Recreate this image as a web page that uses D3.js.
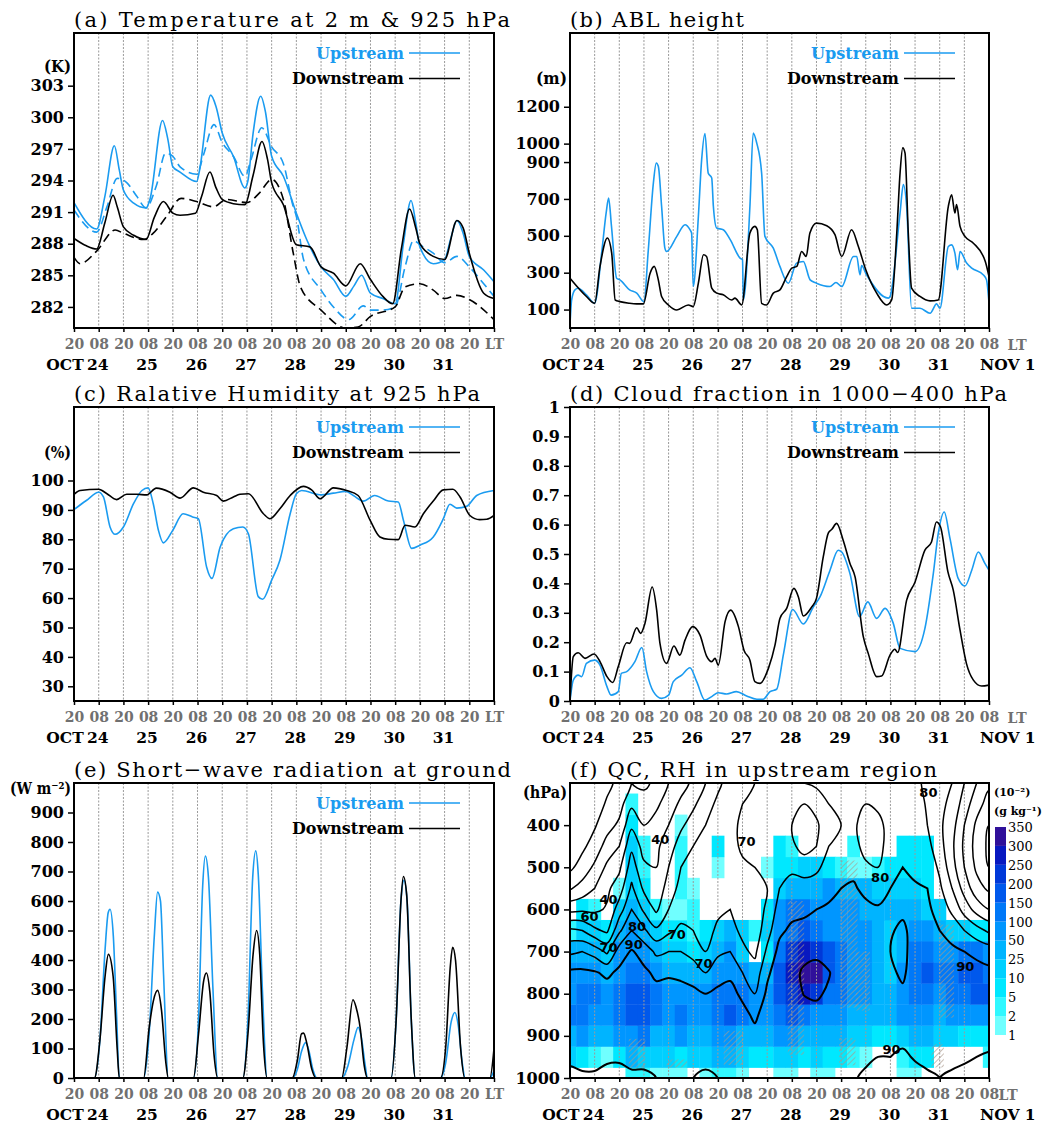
<!DOCTYPE html>
<html lang="en">
<head>
<meta charset="utf-8">
<title>Upstream and downstream time series</title>
<script src="https://d3js.org/d3.v7.min.js"></script>
<style>
  body { margin: 0; background: #fff; }
  .title { font-family: "DejaVu Serif", serif; font-size: 21px; fill: #000; }
  .ytick { font-family: "DejaVu Serif", serif; font-weight: bold; font-size: 16px; fill: #000; }
  .xtick { font-family: "DejaVu Serif", serif; font-weight: bold; font-size: 14px; fill: #707070; }
  .day { font-family: "DejaVu Serif", serif; font-weight: bold; font-size: 15.5px; fill: #000; }
  .unit { font-family: "DejaVu Serif", serif; font-weight: bold; font-size: 16px; fill: #000; }
  .cunit { font-family: "DejaVu Serif", serif; font-weight: bold; font-size: 11px; fill: #000; }
  .legend { font-family: "DejaVu Serif", serif; font-weight: bold; font-size: 16px; }
  .clab { font-family: "DejaVu Sans", sans-serif; font-weight: bold; font-size: 13px; fill: #000; }
  .cbar { font-family: "DejaVu Serif", serif; font-size: 13px; fill: #000; }
</style>
</head>
<body>
<script>
// hours after 20 LT on 23 Oct
const tickHours = [0,12,24,36,48,60,72,84,96,108,120,132,144,156,168,180,192,204];
const tickNames = ["20","08","20","08","20","08","20","08","20","08","20","08","20","08","20","08","20","08"];
const dayHours = [12,36,60,84,108,132,156,180];
const dayNames = ["24","25","26","27","28","29","30","31"];

// (a) temperature, K  [hour, value]
const aUp2m = [[0,291.9],[11,289.4],[15,292.5],[19.6,297.3],[22,295],[24,293.1],[29,291.85],[35,291.4],[37,292.3],[43,299.7],[45.5,298],[48,295.3],[51.5,294.8],[59.6,293.9],[61,295],[66.4,302.1],[69,301],[72,298.5],[77.4,296.3],[83,293.3],[84.5,294],[87,298.5],[90.7,302.0],[93,300.5],[96,296.3],[101.7,294.4],[108,290.9],[113,288.4],[120,285.8],[126,284.6],[132,283.0],[136,284],[139.7,285.0],[144,283.3],[150,282.8],[156,282.3],[160,288],[163.7,292.1],[166,290],[168,287.7],[174.5,286.1],[180,286.5],[183,288.5],[186,290.2],[189,289],[192,286.8],[199,285.5],[204,284.4]];
const aUp925 = [[0,291.2],[11,289.1],[16,291.5],[21,294.2],[25.6,293.8],[30.5,292.5],[35,291.4],[40,293.5],[44.5,296.6],[48,296.3],[51.5,295.3],[59.6,294.6],[63,296.5],[68,299.3],[72,297.6],[77.4,296.3],[83,294.4],[86,296],[91.2,299.0],[96,297.2],[101.7,295.6],[106.5,291.5],[108,290.6],[111.5,286.5],[120,283.6],[126,282.0],[133.5,280.8],[140.5,282.1],[144,281.7],[150,281.7],[156,282.0],[160.8,285.8],[165,288.3],[168,287.9],[174.5,287.1],[180,286.2],[186,286.8],[192,285.8],[199,284.2],[204,283.0]];
const aDown2m = [[0,288.5],[6,287.8],[11,287.5],[15,290],[19,292.6],[21,291.5],[24,289.6],[29,288.8],[35,288.4],[39,290.5],[43.4,292.0],[48,290.9],[51.5,290.7],[59,290.9],[62,292.5],[66,294.8],[69,293.3],[72,292.2],[77.4,291.8],[83,291.7],[87,294.5],[91.3,297.7],[94,296],[96,293.8],[101.7,291.7],[108,287.9],[114.6,287.7],[120,285.8],[126,285.2],[132,284.0],[139,286.1],[144,284.6],[150,283.0],[154.8,282.3],[159,287.5],[163,291.3],[166,289.5],[168,288.0],[174.5,286.8],[180,286.5],[186,290.2],[189,289.5],[192,287.1],[199,283.3],[204,282.8]];
const aDown925 = [[0,286.7],[3,286.1],[11,287.3],[20,289.3],[24,289.0],[33.7,288.4],[38.5,289.0],[45,290.6],[52,292.3],[59.6,292.0],[67.7,291.5],[74,292.2],[84,291.9],[90,292.8],[96,294.1],[101.7,292.2],[106.5,287.1],[110,283.9],[120,281.7],[132,280.0],[138,280.1],[144,281.1],[156,282.0],[160.8,283.9],[168,284.2],[174.5,283.6],[180,282.8],[186,283.1],[192,282.7],[204,280.8]];

// (b) ABL height, m
const bUp = [[0,17],[0.8,152],[2.4,207],[4,216],[8,180],[12,134],[15.4,406],[17.6,624],[18.8,705],[20.2,551],[22.7,270],[24.3,261],[29,207],[32.5,189],[36,143],[38.1,420],[40.6,787],[42,895],[43,877],[44.6,660],[46.2,433],[47,415],[52,497],[56,560],[58.4,533],[59.2,515],[60,225],[62.5,605],[64.1,913],[65.7,1055],[67.3,840],[69,814],[69.8,660],[71.4,542],[74.6,533],[78,479],[82.8,379],[84,370],[84.4,152],[87.6,660],[89.2,1058],[90.9,1004],[93.3,840],[94.9,497],[99,433],[102.2,334],[106.3,243],[110.3,352],[113.6,361],[116.9,261],[120,243],[126.6,225],[129.5,247],[132.3,225],[138,388],[139.6,388],[141.2,288],[142,339],[144,297],[155,162],[155.8,170],[160.7,624],[162.3,778],[163.9,660],[166.3,107],[170.4,107],[175.3,80],[178.5,131],[180.1,107],[184.2,442],[185.8,451],[187.4,406],[188.7,316],[189.9,415],[193.1,352],[195.6,325],[201.3,288],[202.8,261],[204,134]];
const bDown = [[0,270],[8,171],[12,134],[14.6,334],[18.2,488],[20.3,406],[22,152],[24.3,143],[29,134],[32.5,131],[35.7,131],[39,297],[41,334],[43,261],[44.6,171],[47.9,125],[52,98],[57.6,125],[60,116],[62.5,243],[65,397],[66.5,388],[69,216],[71.4,189],[74.6,180],[78.7,152],[80.3,162],[83.6,125],[87.6,515],[90,551],[91.2,533],[93.3,134],[95.7,125],[99,189],[102.2,207],[105.5,279],[108,325],[110.4,334],[112.8,415],[115,388],[116.8,515],[120,569],[125,555],[129,506],[132.3,388],[137.1,533],[140.4,442],[144,316],[149.3,189],[154.2,125],[156.6,152],[159.1,515],[160.7,841],[162,977],[163.1,950],[164.7,515],[166.3,216],[170.4,171],[175.3,147],[179.3,152],[184.2,660],[185.8,723],[187.4,624],[188.2,669],[189.9,551],[192.3,497],[196.4,460],[202.2,361],[204,279]];

// (c) relative humidity at 925 hPa, %
const cUp = [[0,90.1],[6,93.2],[12,96.0],[14.3,94.4],[17.5,84.2],[20,81.7],[24,84.2],[28.9,92.1],[33,96.6],[36,97.5],[38.5,92.1],[41,83.1],[43.4,78.8],[48,83.1],[53,88.7],[57.6,87.6],[60.4,87.0],[64.4,70.6],[67,66.7],[71,77.4],[77.4,83.6],[82,84.2],[84.7,81.9],[89.5,60.5],[91.6,59.6],[96,66.1],[100,72.9],[105,88.7],[108,95.5],[110.6,96.6],[120,95.1],[126,95.7],[132,96.3],[135.7,94.9],[140.5,93.0],[146,94.9],[152.7,93.0],[157.5,92.7],[160,86.5],[164,76.9],[168,78.0],[174.5,80.8],[179.4,87.0],[182.6,91.9],[185.9,90.6],[190.7,91.2],[195.6,94.9],[204,96.6]];
const cDown = [[0,95.3],[3,96.6],[12,97.0],[16,95.5],[20.7,93.5],[25.6,95.3],[30.5,95.3],[35.3,95.1],[40,97.4],[46.6,96.0],[51.5,94.0],[58,97.5],[62.8,96.0],[69.3,94.9],[72.5,93.0],[77.4,94.4],[80.6,95.3],[84.7,95.5],[92,88.7],[95.2,87.0],[100,90.4],[105,94.9],[111.4,98.0],[115.4,96.8],[119.5,93.8],[126,97.5],[132.4,96.6],[138,94.9],[143.8,86.5],[148.6,80.8],[152.7,80.0],[157.5,79.9],[160.8,84.8],[165.6,84.2],[169.7,88.7],[174.5,93.0],[179.4,96.8],[184,97.0],[187.5,94.4],[192.3,88.1],[197,86.7],[200.5,86.8],[204,88.1]];

// (d) cloud fraction 1000-400 hPa
const dUp = [[0,0],[1.6,0.071],[4,0.088],[5.7,0.083],[8,0.128],[12,0.139],[14.6,0.122],[18,0.049],[20,0.020],[23.5,0.032],[25,0.094],[27.6,0.100],[31.6,0.134],[35,0.182],[37.3,0.100],[40.6,0.032],[44.6,0.009],[48,0.020],[50.3,0.066],[54.4,0.088],[58.4,0.113],[61.7,0.066],[65.7,0.003],[69,0.015],[72.2,0.028],[76.3,0.024],[81,0.032],[86,0.017],[91,0.006],[94,0.006],[97.4,0.032],[100.6,0.040],[104,0.162],[108.4,0.311],[113.6,0.262],[118.5,0.320],[121.7,0.354],[126.6,0.445],[130.6,0.513],[132.3,0.507],[136.3,0.434],[141,0.287],[145,0.337],[149.3,0.281],[153.4,0.315],[157.4,0.264],[160.7,0.179],[168,0.168],[172.8,0.247],[176.9,0.434],[179.3,0.570],[182.2,0.643],[185,0.553],[189,0.417],[192.3,0.391],[195.6,0.445],[198.8,0.507],[202,0.468],[204,0.445]];
const dDown = [[0,0],[1.6,0.151],[4,0.164],[7.3,0.145],[11.7,0.160],[14.6,0.134],[18,0.083],[20.8,0.063],[23.5,0.117],[27.6,0.198],[29,0.196],[32.5,0.249],[34.4,0.230],[36.5,0.264],[40,0.388],[42.2,0.309],[43.8,0.196],[47,0.128],[50.6,0.187],[53.5,0.156],[56,0.207],[59.7,0.253],[63.3,0.224],[66.5,0.153],[69,0.134],[70.6,0.145],[72.2,0.122],[75.5,0.270],[78.2,0.309],[82,0.253],[84.7,0.173],[87.6,0.139],[90,0.066],[92.5,0.060],[96.6,0.111],[99.8,0.190],[102.2,0.281],[105.5,0.315],[109,0.383],[111.2,0.354],[113.6,0.289],[117.7,0.320],[120,0.349],[123.3,0.490],[125.8,0.572],[127.5,0.584],[129.8,0.604],[133,0.547],[136.3,0.468],[138.8,0.422],[142.8,0.219],[145.2,0.162],[149.3,0.083],[151.7,0.085],[155.8,0.156],[158.2,0.176],[159.5,0.165],[163.9,0.343],[168,0.405],[172.8,0.513],[176,0.541],[178.4,0.609],[180.4,0.592],[184,0.439],[186.6,0.377],[189.9,0.241],[193,0.128],[196.4,0.071],[200.4,0.051],[204,0.054]];

// (e) short-wave radiation at ground, W m-2
const eUp = [[0,0],[9.9,0],[12.6,130],[15.1,436],[16.6,560],[17.5,572],[19.1,481],[20.7,210],[22,0],[33.8,0],[36.5,150],[39,480],[40.6,630],[42,600],[43.5,350],[45.8,0],[58,0],[60.5,200],[62.5,650],[63.8,752],[65.3,680],[67.5,300],[69.8,0],[82,0],[84.5,200],[86.8,680],[88.3,770],[89.5,690],[91.5,300],[93.8,0],[106,0],[108.5,30],[110.5,90],[112.5,120],[114,95],[116,30],[118,0],[130,0],[133,40],[136,130],[138,172],[139.5,140],[141.5,40],[142.5,0],[154,0],[156.5,200],[158.8,600],[160.3,670],[161.8,600],[163.8,200],[165.8,0],[178,0],[180.5,50],[183.2,190],[185,222],[186.6,180],[188.6,50],[190,0],[202,0],[204,25]];
const eDown = [[0,0],[9.9,0],[12.6,130],[15.1,345],[16.7,419],[19,345],[21,96],[22,0],[33.8,0],[36.5,170],[38.5,260],[40.6,297],[42.5,230],[44.5,60],[45.8,0],[58,0],[60.5,150],[63,330],[64.3,356],[66,290],[68,80],[69.8,0],[82,0],[84.5,150],[87,420],[88.7,500],[90.2,420],[92,120],[93.8,0],[106,0],[108.5,60],[110.5,150],[111.5,152],[113,120],[115.5,30],[117.5,0],[130,0],[132.5,100],[135.5,265],[137,240],[139,170],[141,40],[142.5,0],[154,0],[156.5,200],[158.8,600],[160,683],[161.6,620],[163.8,200],[165.8,0],[178,0],[180.5,100],[182.8,380],[183.9,443],[185.3,400],[187.8,100],[189.8,0],[202,0],[204,100]];

// (f) grid: every 6 h, pressure levels (hPa)
const gridHours = [0,6,12,18,24,30,36,42,48,54,60,66,72,78,84,90,96,102,108,114,120,126,132,138,144,150,156,162,168,174,180,186,192,198,204];
const levels = [1000,950,900,850,800,750,700,650,600,550,500,450,400,350,300];

// QC (10^-2 g/kg), one row per level, bottom (1000 hPa) first
const qcByLevel = [
  [0,0,0,0,0,3,3,1.5,1.5,1.5,0,1.5,3,3,1.5,0,0,1.5,1.5,0,1.5,1.5,0,0,0,0,0,1.5,1.5,0,0,0,0,0,0],                 // 1000
  [15,7,3,1.5,7,35,15,15,15,7,15,15,35,35,15,7,7,15,15,7,15,7,7,3,1.5,0,0,3,7,7,0,0,0,0,3],                        // 950
  [35,70,35,35,70,70,120,35,35,70,35,35,70,70,35,35,35,70,70,35,35,35,35,15,15,7,7,15,35,35,15,15,7,7,7],          // 900
  [120,120,70,70,120,170,170,120,70,120,70,70,120,170,120,70,70,120,170,120,70,70,70,35,35,35,35,70,70,70,35,70,70,70,70], // 850
  [70,120,120,70,120,170,170,120,70,70,70,70,120,120,120,70,70,170,220,270,220,120,120,70,70,35,35,70,120,120,70,120,120,170,170], // 800
  [70,70,70,35,70,120,120,70,35,35,35,35,70,70,70,35,35,170,270,320,320,170,120,70,70,35,15,70,120,170,120,120,170,170,120], // 750
  [35,35,35,15,70,70,70,35,15,15,7,15,35,70,15,0,7,120,220,270,220,170,120,70,70,35,15,35,120,120,70,70,120,120,70], // 700
  [3,15,15,7,35,70,35,15,7,7,3,7,15,35,15,3,15,70,120,170,120,70,70,70,70,35,15,35,70,70,35,15,15,7,7],            // 650
  [0,7,3,0,15,35,15,3,1.5,1.5,3,0,0,0,0,0,7,70,120,120,70,70,70,70,35,35,35,35,35,15,15,0,0,0,0],                   // 600
  [0,0,0,0,1.5,15,7,0,0,3,1.5,0,0,0,0,0,0,15,35,35,35,70,35,35,35,15,15,15,15,7,0,0,0,0,0],                        // 550
  [0,0,0,0,0,15,3,0,0,3,0,0,1.5,0,0,0,1.5,7,7,15,15,7,3,1.5,1.5,3,7,7,7,7,0,0,0,0,0],                              // 500
  [0,0,0,0,0,15,3,0,0,3,0,0,7,0,0,0,0,7,3,0,0,0,0,3,0,0,0,7,7,7,0,0,0,0,0],                                        // 450
  [0,0,0,0,0,7,0,0,0,1.5,0,0,0,0,0,0,0,0,0,0,0,0,0,0,0,0,0,0,0,0,0,0,0,0,0],                                       // 400
  [0,0,0,0,0,3,0,0,0,0,0,0,0,0,0,0,0,0,0,0,0,0,0,0,0,0,0,0,0,0,0,0,0,0,0],                                         // 350
  [0,0,0,0,0,0,0,0,0,0,0,0,0,0,0,0,0,0,0,0,0,0,0,0,0,0,0,0,0,0,0,0,0,0,0]                                          // 300
];

// RH (%) profiles, one per grid hour, from 1000 to 300 hPa
const rhProfiles = [
  [86,93,96,97,96,92,78,62,37,19,8,5,4,4,4],
  [88,94,96,97,96,92,80,60,38,24,14,8,5,4,4],
  [88,94,96,97,96,91,76,52,38,30,22,14,9,6,5],
  [86,92,95,96,95,88,68,48,41,38,32,24,16,11,8],
  [85,92,95,96,95,92,85,68,55,45,38,30,22,16,12],
  [88,93,96,97,97,95,91,80,70,62,55,48,38,28,20],
  [88,93,95,96,95,92,86,72,58,48,42,36,30,24,18],
  [90,94,95,95,93,88,78,62,48,42,40,38,34,28,22],
  [90,94,95,95,93,89,80,68,60,55,50,45,40,35,30],
  [92,95,96,95,93,88,80,72,66,63,60,55,48,42,36],
  [90,94,95,95,92,86,76,70,68,67,64,60,55,48,42],
  [88,93,95,94,90,80,70,66,66,66,65,63,60,56,50],
  [90,94,95,95,92,86,78,72,68,66,66,66,64,62,58],
  [92,95,96,96,93,88,80,73,70,68,68,68,67,66,64],
  [90,93,94,93,88,80,72,68,66,67,69,71,72,70,68],
  [90,93,93,88,80,74,68,64,64,66,70,73,72,70,70],
  [92,95,96,95,92,88,82,76,72,70,71,74,76,76,75],
  [94,96,97,97,97,96,93,88,84,80,76,74,75,78,80],
  [92,96,97,98,98,98,96,92,87,84,78,72,70,74,80],
  [90,96,97,98,100.2,101,98,93,88,84,76,66,62,70,80],
  [92,96,97,98,101,103,98,94,90,85,78,70,68,74,82],
  [94,96,97,97,99,100.5,96,94,91,88,84,80,78,80,84],
  [93,95,96,97,97,96,95,93,92,90,88,84,80,80,82],
  [91,94,96,97,97,96,95,94,93,91,88,84,82,82,84],
  [88,92,95,96,96,95,94,93,92,88,82,76,75,80,84],
  [86,90,94,96,96,95,94,93,91,86,80,77,77,82,85],
  [85,90,94,95,94,92,90,91,92,90,86,84,84,85,86],
  [84,88,93,94,92,88,87,88,92,93,90,87,86,86,85],
  [86,91,95,96,96,96,95,94,93,91,88,85,84,84,82],
  [88,93,96,97,97,96,95,94,92,90,87,83,80,79,78],
  [90,94,96,97,97,96,94,90,86,82,78,74,72,72,74],
  [88,93,96,97,97,95,92,86,78,70,64,62,64,68,70],
  [86,92,95,96,96,94,90,80,66,56,50,48,50,55,60],
  [84,90,94,95,95,93,88,74,56,44,38,36,38,44,50],
  [84,89,93,95,95,92,86,68,50,38,30,28,30,36,42]
];
const rhThresholds = [10,20,30,40,50,60,70,80,90,100];
// contour labels [hour, hPa, text]
const rhLabels = [[18.8,575,"40"],[44,433,"40"],[9.5,615,"60"],[32.6,640,"80"],[18.8,690,"70"],[31,683,"90"],[52,659,"70"],[65,726,"70"],[86,437,"70"],[174.5,321,"80"],[151,524,"80"],[192.5,734,"90"],[156.5,930,"90"]];
// hatched areas [hour from, hour to, hPa top, hPa bottom]
const hatchAreas = [[106,114,580,945],[132,140,484,833],[139,146,700,840],[180,187,636,857],[131,139,905,970],[176,182,920,975],[28.6,36.7,907,975],[74.8,84.5,888,969],[47,57,956,975]];

const qcBounds = [1,2,5,10,25,50,100,150,200,250,300,350];
const qcColors = ["#70ffff","#30f8ff","#00e8ff","#00d0ff","#00b4ff","#0096ff","#0078f8","#0058ec","#0038d8","#0818c0","#30109a"];

const BLUE = "#1a9bf0";

const svg = d3.select("body").append("svg")
  .attr("width", 1045).attr("height", 1123)
  .style("background", "#fff");
const defs = svg.append("defs");

const pat = defs.append("pattern").attr("id", "hatch")
  .attr("patternUnits", "userSpaceOnUse").attr("width", 4).attr("height", 4)
  .attr("patternTransform", "rotate(45)");
pat.append("line").attr("x1", 0).attr("y1", 0).attr("x2", 0).attr("y2", 4)
  .attr("stroke", "#a8988a").attr("stroke-width", 1.3);

function setupPanel(o) {
  const x = d3.scaleLinear().domain([0, 204]).range([o.x0, o.x1]);
  const y = d3.scaleLinear().domain(o.yDomain).range([o.y1, o.y0]);
  defs.append("clipPath").attr("id", "clip-" + o.id)
    .append("rect").attr("x", o.x0).attr("y", o.y0)
    .attr("width", o.x1 - o.x0).attr("height", o.y1 - o.y0);
  const g = svg.append("g");
  const plot = g.append("g").attr("clip-path", `url(#clip-${o.id})`);
  return {x, y, g, plot};
}

function gridlines(p, o) {
  p.plot.append("g").selectAll("line").data(tickHours.slice(1, -1)).join("line")
    .attr("x1", d => p.x(d)).attr("x2", d => p.x(d))
    .attr("y1", o.y0).attr("y2", o.y1)
    .attr("stroke", "#9a9a9a").attr("stroke-width", 1).attr("stroke-dasharray", "2,1.5");
}

function decorate(p, o) {
  p.g.append("rect").attr("x", o.x0).attr("y", o.y0)
    .attr("width", o.x1 - o.x0).attr("height", o.y1 - o.y0)
    .attr("fill", "none").attr("stroke", "#000").attr("stroke-width", 2);

  const ya = p.g.append("g").attr("transform", `translate(${o.x0},0)`)
    .call(d3.axisLeft(p.y).tickValues(o.yTicks).tickSize(6).tickPadding(4)
      .tickFormat(o.fmt || d3.format("d")));
  ya.select(".domain").remove();
  ya.selectAll("line").attr("stroke-width", 1.5);
  ya.selectAll("text").attr("class", "ytick");

  const right = o.x0 > 500;
  const last = tickHours.length - 1;
  const xa = p.g.append("g").attr("transform", `translate(0,${o.y1})`)
    .call(d3.axisBottom(p.x).tickValues(tickHours).tickSize(4).tickPadding(7)
      .tickFormat((d, i) => (i === last && !right) ? "LT" : tickNames[i]));
  xa.select(".domain").remove();
  xa.selectAll("line").attr("stroke-width", 1.5);
  xa.selectAll("text").attr("class", "xtick");
  if (right) {
    p.g.append("text").attr("class", "xtick")
      .attr("x", o.x1 + (o.id === "f" ? 19 : 28)).attr("y", o.y1 + 22)
      .attr("text-anchor", "middle").text("LT");
  }

  const dy = o.y1 + 42;
  p.g.append("text").attr("class", "day").attr("x", p.x(dayHours[0]) - 15).attr("y", dy)
    .attr("text-anchor", "end").text("OCT");
  p.g.append("g").selectAll("text").data(dayHours).join("text")
    .attr("class", "day").attr("x", d => p.x(d) - 1).attr("y", dy)
    .attr("text-anchor", "middle").text((d, i) => dayNames[i]);
  if (right) {
    p.g.append("text").attr("class", "day").attr("x", o.x1 - 9).attr("y", dy).text("NOV 1");
  }

  p.g.append("text").attr("class", "title").attr("x", o.x0).attr("y", o.y0 - 6)
    .attr("textLength", o.titleW).attr("lengthAdjust", "spacing").text(o.title);

  if (o.unit) {
    p.g.append("text").attr("class", "unit").attr("x", o.x0 - 3).attr("y", o.unitY)
      .attr("text-anchor", "end").attr("textLength", o.unitW).attr("lengthAdjust", "spacingAndGlyphs")
      .text(o.unit);
  }
}

function legend(p, o) {
  const items = [
    {name: "Upstream", color: BLUE, dy: 20, w: 88},
    {name: "Downstream", color: "#000", dy: 45.5, w: 112}
  ];
  items.forEach(it => {
    p.g.append("text").attr("class", "legend")
      .attr("x", o.x1 - 90).attr("y", o.y0 + it.dy + 5.5)
      .attr("text-anchor", "end").attr("fill", it.color)
      .attr("textLength", it.w).attr("lengthAdjust", "spacingAndGlyphs")
      .text(it.name);
    p.g.append("line")
      .attr("x1", o.x1 - 85).attr("x2", o.x1 - 34)
      .attr("y1", o.y0 + it.dy).attr("y2", o.y0 + it.dy)
      .attr("stroke", it.color).attr("stroke-width", 1.6);
  });
}

function series(p, data, color, dash) {
  const line = d3.line().x(d => p.x(d[0])).y(d => p.y(d[1])).curve(d3.curveMonotoneX);
  p.plot.append("path").datum(data)
    .attr("d", line).attr("fill", "none")
    .attr("stroke", color).attr("stroke-width", 1.6)
    .attr("stroke-dasharray", dash || null);
}

const L = {x0: 74, x1: 494}, R = {x0: 570, x1: 989};
const ROWS = [{y0: 33, y1: 328}, {y0: 407, y1: 701}, {y0: 783, y1: 1078}];

const cfgs = [
  {id: "a", ...L, ...ROWS[0], yDomain: [280, 308], yTicks: [282,285,288,291,294,297,300,303],
   title: "(a) Temperature at 2 m & 925 hPa", titleW: 436, unit: "(K)", unitY: 72, unitW: 27,
   lines: [[aUp2m, BLUE], [aUp925, BLUE, "9,5"], [aDown2m, "#000"], [aDown925, "#000", "9,5"]]},
  {id: "b", ...R, ...ROWS[0], yDomain: [0, 1600], yTicks: [100,300,500,700,900,1000,1200],
   title: "(b) ABL height", titleW: 174, unit: "(m)", unitY: 84, unitW: 31,
   lines: [[bUp, BLUE], [bDown, "#000"]]},
  {id: "c", ...L, ...ROWS[1], yDomain: [25, 125], yTicks: [30,40,50,60,70,80,90,100],
   title: "(c) Ralative Humidity at 925 hPa", titleW: 406, unit: "(%)", unitY: 458, unitW: 27,
   lines: [[cUp, BLUE], [cDown, "#000"]]},
  {id: "d", ...R, ...ROWS[1], yDomain: [0, 1], yTicks: [0,0.1,0.2,0.3,0.4,0.5,0.6,0.7,0.8,0.9,1],
   fmt: d3.format("~g"),
   title: "(d) Cloud fraction in 1000\u2212400 hPa", titleW: 437, unit: "", unitY: 0, unitW: 1,
   lines: [[dUp, BLUE], [dDown, "#000"]]},
  {id: "e", ...L, ...ROWS[2], yDomain: [0, 1000], yTicks: [0,100,200,300,400,500,600,700,800,900],
   title: "(e) Short\u2212wave radiation at ground", titleW: 437, unit: "(W m\u207b\u00b2)", unitY: 794, unitW: 61,
   lines: [[eUp, BLUE], [eDown, "#000"]]}
];

cfgs.forEach(o => {
  const p = setupPanel(o);
  gridlines(p, o);
  o.lines.forEach(l => series(p, l[0], l[1], l[2]));
  decorate(p, o);
  legend(p, o);
});

// ---- (f) QC shading and RH contours ----
const fo = {id: "f", ...R, ...ROWS[2], yDomain: [1000, 300], yTicks: [400,500,600,700,800,900,1000],
  title: "(f) QC, RH in upstream region", titleW: 367, unit: "(hPa)", unitY: 798, unitW: 44};
const pf = setupPanel(fo);

const qcColor = d3.scaleThreshold().domain(qcBounds)
  .range([null, ...qcColors, qcColors[qcColors.length - 1]]);
const cells = [];
qcByLevel.forEach((row, j) => row.forEach((v, i) => {
  if (v >= qcBounds[0]) cells.push({t: gridHours[i], p: levels[j], v});
}));
const cw = pf.x(6) - pf.x(0), ch = pf.y(950) - pf.y(1000);
pf.plot.append("g").selectAll("rect").data(cells).join("rect")
  .attr("x", d => pf.x(d.t - 3)).attr("width", cw + 0.4)
  .attr("y", d => pf.y(d.p - 25)).attr("height", Math.abs(ch) + 0.4)
  .attr("fill", d => qcColor(d.v));

pf.plot.append("g").selectAll("rect").data(hatchAreas).join("rect")
  .attr("x", d => pf.x(d[0])).attr("width", d => pf.x(d[1]) - pf.x(d[0]))
  .attr("y", d => pf.y(d[2])).attr("height", d => pf.y(d[3]) - pf.y(d[2]))
  .attr("fill", "url(#hatch)");

gridlines(pf, fo);

// padded grid so that contour rings along the border fall outside the clip
const nx = gridHours.length + 2, ny = levels.length + 2;
const vals = new Array(nx * ny);
for (let j = 0; j < ny; j++) {
  for (let i = 0; i < nx; i++) {
    const ii = Math.min(Math.max(i - 1, 0), gridHours.length - 1);
    const jj = Math.min(Math.max(j - 1, 0), levels.length - 1);
    vals[j * nx + i] = rhProfiles[ii][jj];
  }
}
const rhContours = d3.contours().size([nx, ny]).thresholds(rhThresholds)(vals);
const toT = cx => (cx - 1.5) * 6;
const toP = cy => 1000 - 50 * (cy - 1.5);
const ring = d3.line()
  .x(d => pf.x(toT(d[0]))).y(d => pf.y(toP(d[1])))
  .curve(d3.curveCatmullRomClosed.alpha(0.5));
rhContours.forEach(c => {
  c.coordinates.forEach(poly => poly.forEach(r => {
    pf.plot.append("path").attr("d", ring(r.slice(0, -1)))
      .attr("fill", "none").attr("stroke", "#000")
      .attr("stroke-width", c.value >= 90 ? 2 : 1.5);
  }));
});

pf.plot.append("g").selectAll("text").data(rhLabels).join("text")
  .attr("class", "clab").attr("x", d => pf.x(d[0])).attr("y", d => pf.y(d[1]) + 5)
  .attr("text-anchor", "middle").text(d => d[2]);

decorate(pf, fo);

// colour bar
const cb = d3.scaleLinear().domain([0, qcColors.length]).range([1035, 827]);
svg.append("g").selectAll("rect").data(qcColors).join("rect")
  .attr("x", 995).attr("width", 11)
  .attr("y", (d, i) => cb(i + 1)).attr("height", (d, i) => cb(i) - cb(i + 1))
  .attr("fill", d => d);
svg.append("g").selectAll("text").data(qcBounds).join("text")
  .attr("class", "cbar").attr("x", 1008).attr("y", (d, i) => cb(i) + 5).text(d => d);
svg.append("text").attr("class", "cunit").attr("x", 994).attr("y", 796)
  .text("(10\u207b\u00b2)");
svg.append("text").attr("class", "cunit").attr("x", 994).attr("y", 815)
  .text("(g kg\u207b\u00b9)");
</script>
</body>
</html>
